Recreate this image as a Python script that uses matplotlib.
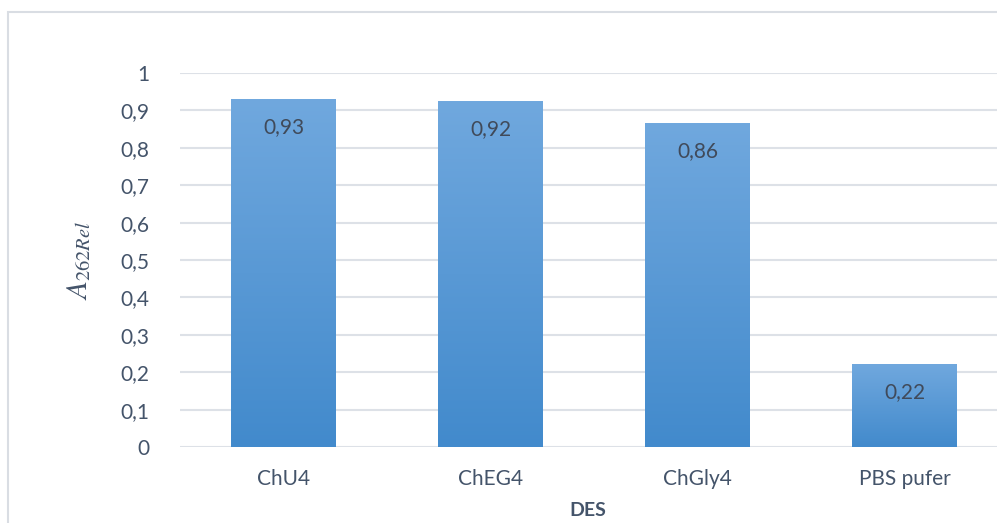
import numpy as np
import matplotlib.pyplot as plt
from matplotlib.patches import Rectangle

kategorije = ["ChU4", "ChEG4", "ChGly4", "PBS pufer"]
vrijednosti = [0.93, 0.925, 0.865, 0.22]
oznake = ["0,93", "0,92", "0,86", "0,22"]
y_tickovi = [0, 0.1, 0.2, 0.3, 0.4, 0.5, 0.6, 0.7, 0.8, 0.9, 1]
y_oznake = ["0", "0,1", "0,2", "0,3", "0,4", "0,5", "0,6", "0,7", "0,8", "0,9", "1"]

plt.rcParams['font.family'] = ['Lato', 'DejaVu Sans']
plt.rcParams['mathtext.fontset'] = 'stix'

boja_teksta = "#44546A"
mreza = "#DDE1E7"

fig = plt.figure(figsize=(9.97, 5.23), dpi=100)
# okvir grafa (desni i donji rub odrezani)
fig.patches.append(Rectangle((8 / 997, -0.1), 1.1, (523 - 12) / 523 + 0.1,
                             transform=fig.transFigure, fill=False,
                             edgecolor="#D9DDE3", linewidth=1.5))

ax = fig.add_axes([180 / 997, 76 / 523, 828 / 997, 374 / 523])
x = np.arange(len(kategorije))
stupci = ax.bar(x, vrijednosti, width=0.505, color="none", zorder=3)

# gradijent: svjetlije gore, tamnije dolje
gore = np.array([112, 168, 222]) / 255
dolje = np.array([66, 138, 204]) / 255
t = np.linspace(0, 1, 256)[:, None]
grad = (gore * (1 - t) + dolje * t)[:, None, :]
for s in stupci:
    x0, w, h = s.get_x(), s.get_width(), s.get_height()
    ax.imshow(grad, extent=(x0, x0 + w, 0, h), aspect="auto", zorder=3,
              interpolation="bilinear")

for xi, v, lab in zip(x, vrijednosti, oznake):
    ax.annotate(lab, (xi, v), xytext=(0, -20), textcoords="offset points",
                ha="center", va="center", fontsize=15, color="#404A5A", zorder=4)

ax.set_xlim(-0.5, len(kategorije) - 0.5)
ax.set_ylim(0, 1)
ax.set_yticks(y_tickovi)
ax.set_yticklabels(y_oznake)
ax.set_xticks(x)
ax.set_xticklabels(kategorije)
ax.tick_params(axis="y", length=0, pad=22, labelsize=15, labelcolor=boja_teksta)
ax.tick_params(axis="x", length=0, pad=16, labelsize=15, labelcolor=boja_teksta)
ax.grid(axis="y", color=mreza, linewidth=1.5, zorder=0)
ax.set_axisbelow(True)
for sp in ax.spines.values():
    sp.set_visible(False)

ax.set_ylabel(r"$A_{262Rel}$", fontsize=21, color=boja_teksta, labelpad=20)
fig.text(588 / 997, 1 - 511 / 523, "DES", fontsize=14, fontweight="bold",
         color=boja_teksta, ha="center", va="center")

fig.savefig("out.png", dpi=100)
